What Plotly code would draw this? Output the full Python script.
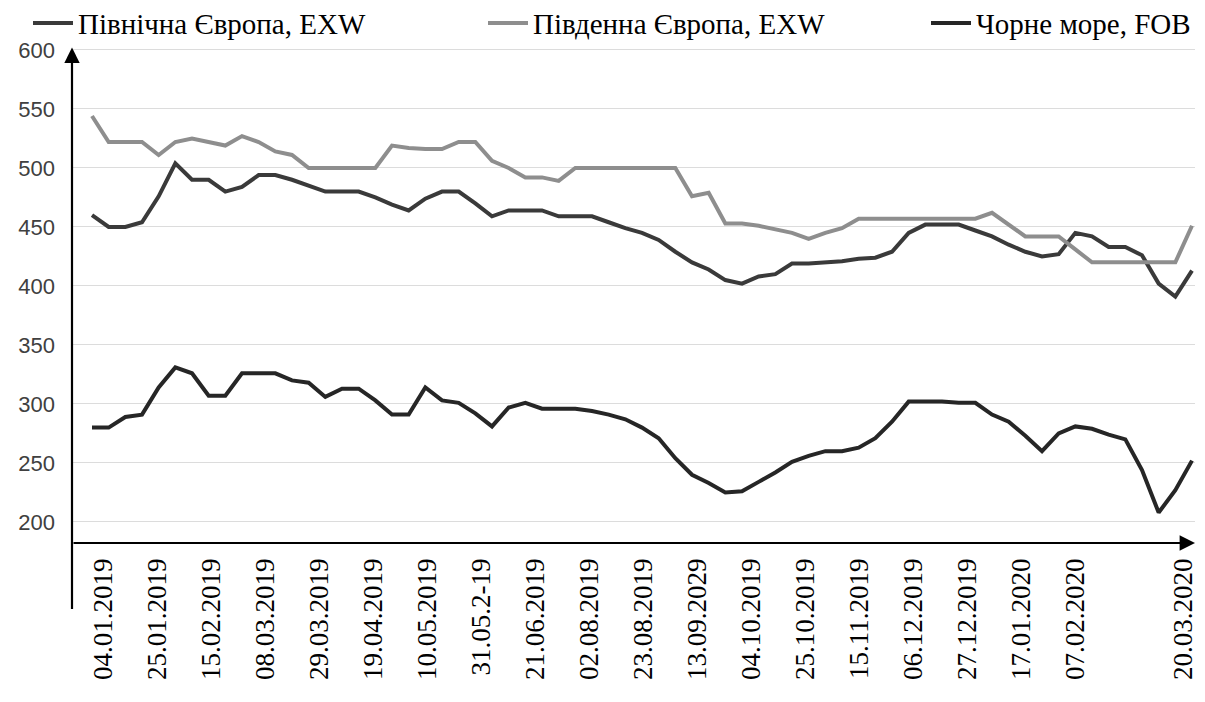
import plotly.graph_objects as go

north_europe = [460, 450, 450, 454, 476, 504, 490, 490, 480, 484,
                494, 494, 490, 485, 480, 480, 480, 475, 469, 464,
                474, 480, 480, 470, 459, 464, 464, 464, 459, 459,
                459, 454, 449, 445, 439, 429, 420, 414, 405, 402,
                408, 410, 419, 419, 420, 421, 423, 424, 429, 445,
                452, 452, 452, 447, 442, 435, 429, 425, 427, 445,
                442, 433, 433, 426, 402, 391, 413]

south_europe = [544, 522, 522, 522, 511, 522, 525, 522, 519, 527,
                522, 514, 511, 500, 500, 500, 500, 500, 519, 517,
                516, 516, 522, 522, 506, 500, 492, 492, 489, 500,
                500, 500, 500, 500, 500, 500, 476, 479, 453, 453,
                451, 448, 445, 440, 445, 449, 457, 457, 457, 457,
                457, 457, 457, 457, 462, 452, 442, 442, 442, 431,
                420, 420, 420, 420, 420, 420, 451]

black_sea = [280, 280, 289, 291, 314, 331, 326, 307, 307, 326,
             326, 326, 320, 318, 306, 313, 313, 303, 291, 291,
             314, 303, 301, 292, 281, 297, 301, 296, 296, 296,
             294, 291, 287, 280, 271, 254, 240, 233, 225, 226,
             234, 242, 251, 256, 260, 260, 263, 271, 285, 302,
             302, 302, 301, 301, 291, 285, 273, 260, 275, 281,
             279, 274, 270, 244, 208, 227, 252]

# Date labels as printed under the axis (one slot, 28.02.2020, is blank)
date_labels = ["04.01.2019", "25.01.2019", "15.02.2019", "08.03.2019",
               "29.03.2019", "19.04.2019", "10.05.2019", "31.05.2-19",
               "21.06.2019", "02.08.2019", "23.08.2019", "13.09.2029",
               "04.10.2019", "25.10.2019", "15.11.2019", "06.12.2019",
               "27.12.2019", "17.01.2020", "07.02.2020", "", "20.03.2020"]

y_ticks = [200, 250, 300, 350, 400, 450, 500, 550, 600]

names = ["Північна Європа, EXW", "Південна Європа, EXW", "Чорне море, FOB"]
colors = ["#3a3a3a", "#8e8e8e", "#262626"]
series = [north_europe, south_europe, black_sea]
legend_ids = ["legend", "legend2", "legend3"]

weeks = list(range(len(north_europe)))

fig = go.Figure()
for name, col, vals, lg in zip(names, colors, series, legend_ids):
    fig.add_trace(go.Scatter(x=weeks, y=vals, mode="lines", name=name,
                             legend=lg, line=dict(color=col, width=4)))

# invisible trace to carry the label axis
fig.add_trace(go.Scatter(x=[None], y=[None], xaxis="x2", showlegend=False,
                         hoverinfo="skip"))

# the page body adds an 8px offset, so the figure is sized to fit the window
W, H = 1197, 694
serif = "Times New Roman, Liberation Serif, serif"
legend_style = dict(orientation="h", xref="container", yref="paper",
                    y=1.095, xanchor="left", yanchor="top",
                    font=dict(family=serif, size=29, color="black"),
                    itemwidth=40, bgcolor="rgba(0,0,0,0)")

fig.update_layout(
    width=W, height=H,
    margin=dict(l=64, r=10, t=37, b=159, autoexpand=False),
    paper_bgcolor="white", plot_bgcolor="white",
    showlegend=True,
    legend=dict(legend_style, x=20 / W),
    legend2=dict(legend_style, x=475 / W),
    legend3=dict(legend_style, x=918 / W),
    xaxis=dict(range=[-1.2, 66.18], showticklabels=False, showgrid=False,
               zeroline=False, showline=False, ticks=""),
    xaxis2=dict(overlaying="x", anchor="y", side="bottom",
                range=[-0.574, 20.22],
                tickmode="array", tickvals=list(range(len(date_labels))),
                ticktext=date_labels, tickangle=-90,
                ticklabelstandoff=9,
                tickfont=dict(family=serif, size=27, color="black"),
                showgrid=False, zeroline=False, showline=False, ticks=""),
    yaxis=dict(range=[182.2, 604.2], tickmode="array", tickvals=y_ticks,
               showgrid=True, gridcolor="#dcdcdc", gridwidth=1,
               zeroline=False, showline=False, ticks="",
               ticklabelstandoff=16,
               tickfont=dict(family="Arial, Liberation Sans, sans-serif",
                             size=22, color="#404040")),
)

# axis arrows
fig.add_annotation(xref="paper", yref="y", x=0, y=602, ax=0, ay=563,
                   axref="pixel", ayref="pixel", text="", showarrow=True,
                   arrowhead=2, arrowsize=1.4, arrowwidth=2.2,
                   arrowcolor="black")
fig.add_annotation(xref="paper", yref="paper", x=1, y=0, ax=-1123, ay=0,
                   axref="pixel", ayref="pixel", text="", showarrow=True,
                   arrowhead=2, arrowsize=1.4, arrowwidth=2.2,
                   arrowcolor="black")

fig.write_html("out.html")
